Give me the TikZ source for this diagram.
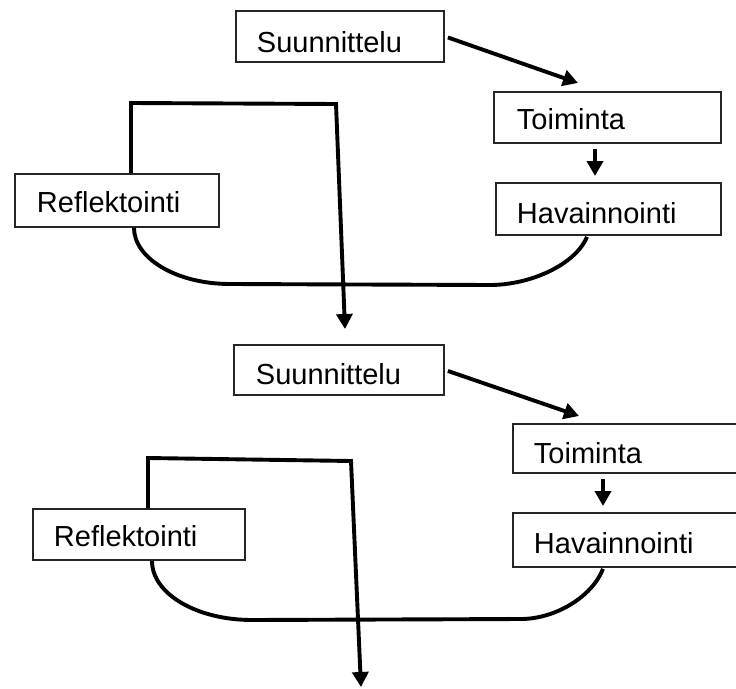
\documentclass[tikz,border=0pt]{standalone}
\usepackage{fontspec}
\setmainfont{Liberation Sans}
\usetikzlibrary{arrows.meta,calc}
\begin{document}
\begin{tikzpicture}[x=1pt,y=-1pt,
  box/.style={draw=black!85, line width=1.9pt, fill=white, rectangle,
    anchor=north west, inner ysep=0pt, align=left,
    font=\fontsize{29}{34}\selectfont},
  conn/.style={line width=3.9pt, black, line join=miter},
  tip/.style={-{Triangle[length=15pt,width=16pt]}},
]
\useasboundingbox (0,0) rectangle (736,688);
\clip (0,0) rectangle (736,688);

% ---------- first cycle ----------
\node[box, text width=166pt, inner xsep=21pt, text height=42pt, text depth=9pt]  (s1) at (235,10)  {Suunnittelu};
\node[box, text width=181pt, inner xsep=23pt, text height=38pt, text depth=13pt] (t1) at (493,91)  {Toiminta};
\node[box, text width=183pt, inner xsep=21pt, text height=41pt, text depth=11pt] (h1) at (495,182) {Havainnointi};
\node[box, text width=160pt, inner xsep=22pt, text height=39pt, text depth=14pt] (r1) at (14,173)  {Reflektointi};

% ---------- second cycle ----------
\node[box, text width=166pt, inner xsep=22pt, text height=40pt, text depth=10pt] (s2) at (233,344) {Suunnittelu};
\node[box, text width=198pt, inner xsep=21pt, text height=40pt, text depth=9pt]  (t2) at (512,423) {Toiminta};
\node[box, text width=198pt, inner xsep=21pt, text height=41pt, text depth=13pt] (h2) at (512,512) {Havainnointi};
\node[box, text width=170pt, inner xsep=21pt, text height=38pt, text depth=13pt] (r2) at (32,508)  {Reflektointi};

% corner points of the reflection loops
\coordinate (k1a) at (131,103);
\coordinate (k1b) at (336,104);
\coordinate (k2a) at (148,458);
\coordinate (k2b) at (351,461);
\coordinate (out) at (361,687);

% first cycle: planning -> action -> observation
\draw[conn,tip] ($(s1.east)+(3,1)$) -- ($(t1.north west)+(85,-8)$);
\draw[conn,tip] ($(t1.south west)+(102,5)$) -- ($(h1.north west)+(100,-6)$);
% observation back round to reflection
\draw[conn] ($(h1.south west)+(92,1)$) .. controls (575,265) and (530,285) .. (490,285)
  -- (230,284) .. controls (176,284) and (134,258) .. ($(r1.south west)+(120,0)$);
% reflection leads into the next planning step
\draw[conn,tip] ($(r1.north west)+(117,0)$) -- (k1a) -- (k1b) -- ($(s2.north west)+(112,-15)$);

% second cycle
\draw[conn,tip] ($(s2.east)+(3,1)$) -- ($(t2.north west)+(67,-7)$);
\draw[conn,tip] ($(t2.south west)+(91,5)$) -- ($(h2.north west)+(91,-6)$);
\draw[conn] ($(h2.south west)+(91,1)$) .. controls (592,597) and (555,619) .. (521,619)
  -- (252,620) .. controls (197,620) and (152,594) .. ($(r2.south west)+(120,0)$);
\draw[conn,tip] ($(r2.north west)+(116,0)$) -- (k2a) -- (k2b) -- (out);
\end{tikzpicture}
\end{document}
